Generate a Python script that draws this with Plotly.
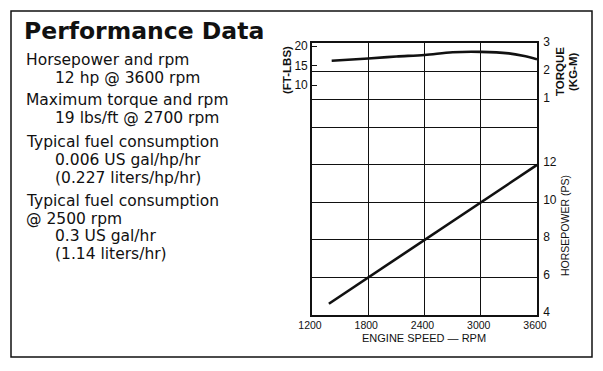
import plotly.graph_objects as go

# ---------------- data ----------------
rpm_ticks = [1200, 1800, 2400, 3000, 3600]
hp_tickvals = [4, 6, 8, 10, 12, 14]
hp_ticktext = ["4", "6", "8", "10", "12", ""]
kgm_ticks = [1, 2, 3]
ftlb_ticks = [10, 15, 20]

hp_rpm = [1380, 1800, 2400, 3000, 3600]
hp_values = [4.6, 6.0, 8.0, 10.0, 12.0]

torque_rpm = [1410, 1800, 2100, 2400, 2700, 3000, 3300, 3450, 3600]
torque_ftlbs = [16.2, 16.8, 17.3, 17.7, 18.4, 18.5, 18.1, 17.5, 16.6]

title_text = "Performance Data"
spec_lines = [
    ("Horsepower and rpm", 0),
    ("12 hp @ 3600 rpm", 1),
    ("Maximum torque and rpm", 0),
    ("19 lbs/ft @ 2700 rpm", 1),
    ("Typical fuel consumption", 0),
    ("0.006 US gal/hp/hr", 1),
    ("(0.227 liters/hp/hr)", 1),
    ("Typical fuel consumption", 0),
    ("@ 2500 rpm", 0),
    ("0.3 US gal/hr", 1),
    ("(1.14 liters/hr)", 1),
]
spec_y = [60, 78, 100, 118, 142, 160, 178, 201, 219, 236, 254]

# ---------------- layout geometry ----------------
W, H = 603, 371
PX0, PX1 = 312, 537   # plot area left/right (px)
PY0, PY1 = 43, 315    # plot area top/bottom (px)


def px(x):
    return (x - PX0) / (PX1 - PX0)


def py(y):
    return (PY1 - y) / (PY1 - PY0)


BLACK = "#111111"
FONT = "Liberation Sans"

fig = go.Figure()
fig.add_trace(go.Scatter(x=hp_rpm, y=hp_values, mode="lines",
                         line=dict(color=BLACK, width=2.6), yaxis="y",
                         showlegend=False, hoverinfo="skip"))
fig.add_trace(go.Scatter(x=torque_rpm, y=torque_ftlbs, mode="lines",
                         line=dict(color=BLACK, width=2.6, shape="spline"),
                         yaxis="y3", showlegend=False, hoverinfo="skip"))
# invisible trace to activate yaxis2
fig.add_trace(go.Scatter(x=[None], y=[None], yaxis="y2", showlegend=False,
                         hoverinfo="skip"))

axis_common = dict(showline=True, linecolor=BLACK, linewidth=1.6,
                   gridcolor=BLACK, gridwidth=1.3, zeroline=False)
xfont = dict(family=FONT, size=10.5, color=BLACK)
yfont = dict(family=FONT, size=12, color=BLACK)

# ft-lbs scale: 20 at px 46, 3.9 px per ft-lb
ft_top = 20 + (46 - PY0) / 3.9
ft_bot = 20 - (PY1 - 46) / 3.9
# kg-m scale: 0 at px 127, 28 px per kg-m
kg_top = (127 - PY0) / 28
kg_bot = -(PY1 - 127) / 28

fig.update_layout(
    width=W, height=H,
    margin=dict(l=PX0, r=W - PX1, t=PY0, b=H - PY1, pad=0),
    paper_bgcolor="white", plot_bgcolor="white",
    xaxis=dict(range=[1200, 3600], tickvals=rpm_ticks, showgrid=True,
               mirror=True, ticks="", ticklen=0, ticklabelshift=-2,
               tickfont=xfont, **axis_common),
    yaxis=dict(range=[4, 18.5], tickvals=hp_tickvals, ticktext=hp_ticktext,
               side="right", showgrid=True, mirror=True, ticks="",
               ticklabelshift=-3, ticklabelstandoff=2,
               tickfont=yfont, **axis_common),
    yaxis2=dict(range=[kg_bot, kg_top], tickvals=kgm_ticks, side="right",
                overlaying="y", showgrid=True, ticks="", ticklabelshift=-1,
                ticklabelstandoff=2, tickfont=yfont, **axis_common),
    yaxis3=dict(range=[ft_bot, ft_top], tickvals=ftlb_ticks, side="left",
                overlaying="y", showgrid=False, ticks="inside", ticklen=5,
                tickcolor=BLACK, tickwidth=1.3, tickfont=yfont, **axis_common),
)

ann = []
ann.append(dict(text="<b>" + title_text + "</b>", x=px(23), y=py(31),
                xanchor="left", yanchor="middle",
                font=dict(family="DejaVu Sans", size=23.5, color=BLACK)))
for (txt, indent), yy in zip(spec_lines, spec_y):
    ann.append(dict(text=txt, x=px(25 + 29 * indent), y=py(yy),
                    xanchor="left", yanchor="middle",
                    font=dict(family="DejaVu Sans", size=15.5, color=BLACK)))
# axis titles
ann.append(dict(text="ENGINE SPEED — RPM", x=px(424), y=py(338),
                xanchor="center", yanchor="middle",
                font=dict(family=FONT, size=11, color=BLACK)))
ann.append(dict(text="<b>(FT-LBS)</b>", x=px(287), y=py(70), textangle=-90,
                xanchor="center", yanchor="middle",
                font=dict(family=FONT, size=11.5, color=BLACK)))
ann.append(dict(text="<b>TORQUE</b>", x=px(560), y=py(72), textangle=-90,
                xanchor="center", yanchor="middle",
                font=dict(family=FONT, size=11.5, color=BLACK)))
ann.append(dict(text="<b>(KG-M)</b>", x=px(573), y=py(72), textangle=-90,
                xanchor="center", yanchor="middle",
                font=dict(family=FONT, size=11.5, color=BLACK)))
ann.append(dict(text="HORSEPOWER (PS)", x=px(565), y=py(226), textangle=-90,
                xanchor="center", yanchor="middle",
                font=dict(family=FONT, size=10.5, color=BLACK)))
for a in ann:
    a.update(xref="paper", yref="paper", showarrow=False, borderpad=0)
fig.update_layout(annotations=ann)

fig.add_shape(type="rect", xref="paper", yref="paper",
              x0=px(11), x1=px(592), y0=py(357), y1=py(11),
              line=dict(color=BLACK, width=1.5), fillcolor="rgba(0,0,0,0)",
              layer="above")

fig.write_html("out.html", config={"displayModeBar": False},
               post_script="document.body.style.margin='0';")
